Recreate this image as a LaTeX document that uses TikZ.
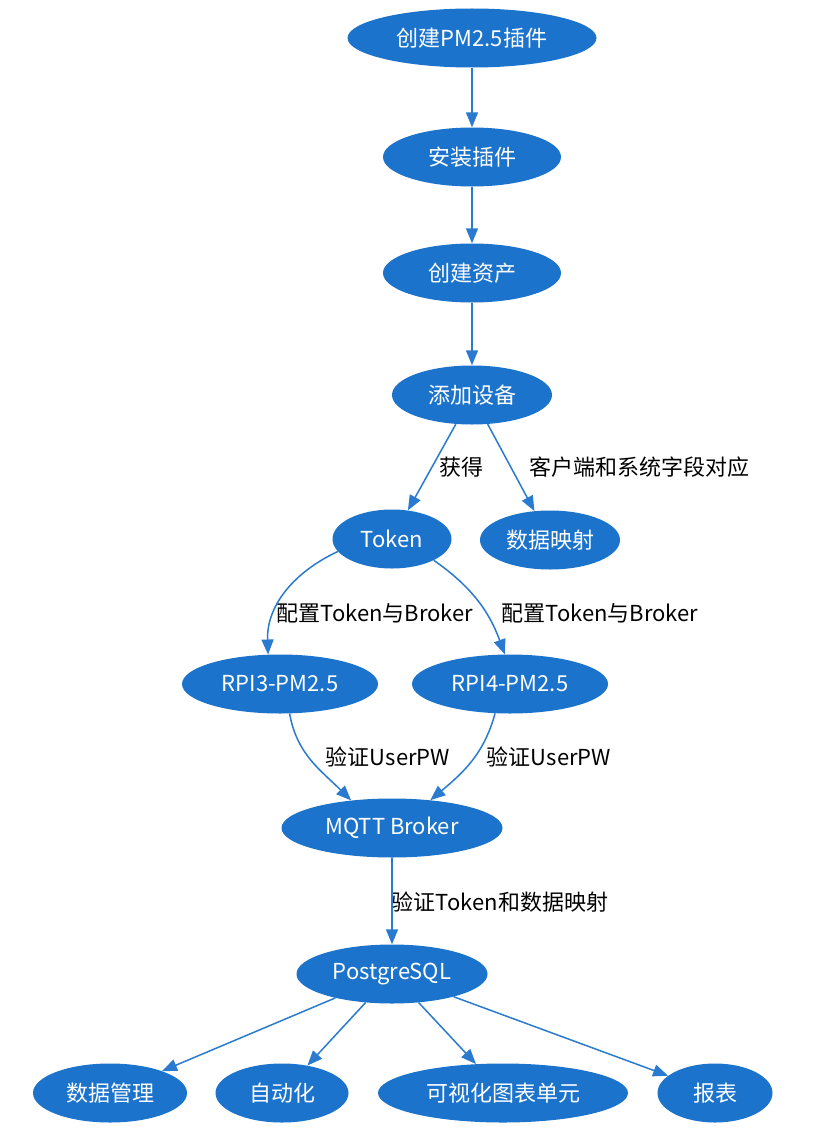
\documentclass[tikz,border=0pt]{standalone}
\usepackage{fontspec}
\setmainfont{Noto Sans CJK SC}
\usetikzlibrary{shapes.geometric,arrows.meta}
\definecolor{nodeblue}{HTML}{1C73CC}
\definecolor{edgeblue}{HTML}{2A7BCF}
\begin{document}
\begin{tikzpicture}[x=1pt,y=1pt,
  nd/.style={ellipse, fill=nodeblue, text=white, inner sep=0pt, minimum height=59pt, font=\fontsize{22}{26}\selectfont},
  ar/.style={draw=edgeblue, line width=1.5pt, -{Triangle[length=15pt,width=12pt]}},
  lb/.style={font=\fontsize{22}{26}\selectfont, text=black, inner sep=0pt}]
\useasboundingbox[fill=white] (0,0) rectangle (832,-1140);
% nodes
\node[nd, minimum width=249pt] (n1) at (472,-38) {创建PM2.5插件};
\node[nd, minimum width=178pt] (n2) at (472,-157) {安装插件};
\node[nd, minimum width=178pt] (n3) at (472,-273) {创建资产};
\node[nd, minimum width=160pt] (n4) at (472,-395) {添加设备};
\node[nd, minimum width=119pt] (tok) at (392,-539) {Token};
\node[nd, minimum width=140pt] (map) at (550,-540) {数据映射};
\node[nd, minimum width=196pt] (r3) at (280,-684) {RPI3-PM2.5};
\node[nd, minimum width=196pt] (r4) at (510,-684) {RPI4-PM2.5};
\node[nd, minimum width=221pt] (mq) at (392,-828) {MQTT Broker};
\node[nd, minimum width=191pt] (pg) at (392,-974) {PostgreSQL};
\node[nd, minimum width=154pt] (b1) at (110,-1093) {数据管理};
\node[nd, minimum width=133pt] (b2) at (282,-1093) {自动化};
\node[nd, minimum width=250pt] (b3) at (503,-1093) {可视化图表单元};
\node[nd, minimum width=115pt] (b4) at (715,-1093) {报表};
% labels
\node[lb] (l1) at (461,-467) {获得};
\node[lb] (l2) at (639,-467) {客户端和系统字段对应};
\node[lb] (l3) at (375,-613) {配置Token与Broker};
\node[lb] (l4) at (600,-613) {配置Token与Broker};
\node[lb] (l5) at (388,-757) {验证UserPW};
\node[lb] (l6) at (549,-757) {验证UserPW};
\node[lb] (l7) at (500,-902) {验证Token和数据映射};
% edges
\draw[ar] (n1) -- (n2);
\draw[ar] (n2) -- (n3);
\draw[ar] (n3) -- (n4);
\draw[ar] (n4) -- (tok);
\draw[ar] (n4) -- (map);
\draw[ar] (tok.193) to[out=205, in=92] (r3.112);
\draw[ar] (tok.-27) to[out=-35, in=110] (r4.100);
\draw[ar] (r3.-72) to[out=-80, in=135] (mq.146);
\draw[ar] (r4.-117) to[out=-105, in=40] (mq.36);
\draw[ar] (mq) -- (pg);
\draw[ar] (pg) -- (b1);
\draw[ar] (pg) -- (b2);
\draw[ar] (pg) -- (b3);
\draw[ar] (pg) -- (b4);
\end{tikzpicture}
\end{document}
